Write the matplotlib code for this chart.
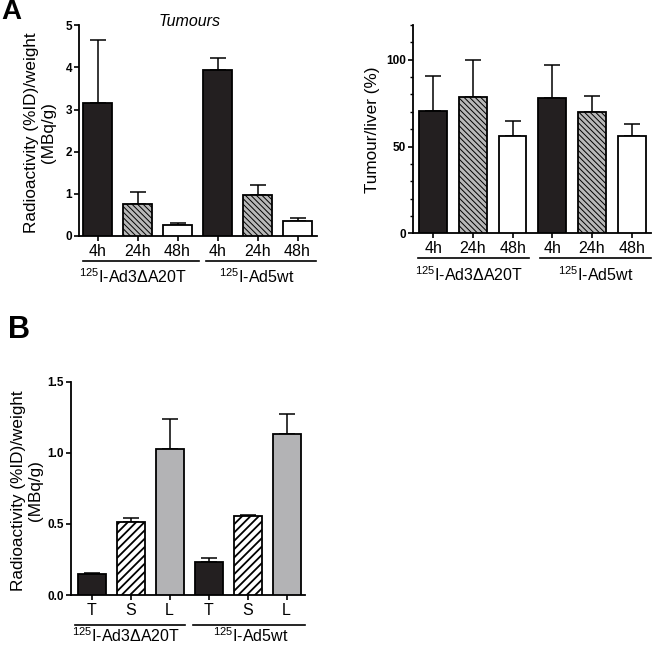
import matplotlib
matplotlib.use("Agg")
import matplotlib.pyplot as plt
from matplotlib.transforms import blended_transform_factory
from matplotlib.lines import Line2D

plt.rcParams['font.family'] = ['Liberation Sans', 'DejaVu Sans']
plt.rcParams['mathtext.fontset'] = 'custom'
plt.rcParams['mathtext.rm'] = 'Liberation Sans'
plt.rcParams['mathtext.it'] = 'Liberation Sans:italic'
plt.rcParams['mathtext.bf'] = 'Liberation Sans:bold'

# ---------------- data ----------------
time_labels = ["4h", "24h", "48h", "4h", "24h", "48h"]
organ_labels = ["T", "S", "L", "T", "S", "L"]
group_labels = [r"$^{125}$I-Ad3ΔA20T", r"$^{125}$I-Ad5wt"]

tumour_ticks = [0, 1, 2, 3, 4, 5]
tumour_vals = [3.16, 0.77, 0.25, 3.93, 0.97, 0.36]
tumour_err = [1.50, 0.28, 0.06, 0.30, 0.25, 0.07]

ratio_ticks = [0, 50, 100]
ratio_vals = [70.2, 78.5, 55.9, 78.2, 69.8, 56.3]
ratio_err = [20.5, 21.3, 8.9, 18.7, 9.3, 6.4]

organ_ticks = [0.0, 0.5, 1.0, 1.5]
organ_vals = [0.145, 0.51, 1.027, 0.232, 0.558, 1.134]
organ_err = [0.007, 0.03, 0.208, 0.03, 0.007, 0.139]

BLACK = '#231f20'
GREY = '#b3b3b5'
HATCH_GREY = '#b8b8b8'

W, H = 652, 645
fig = plt.figure(figsize=(W / 100, H / 100), dpi=100)


def fx(px):
    return px / W


def fy(py):
    return 1 - py / H


def style_axes(ax, ticks, fmt):
    for s in ['top', 'right']:
        ax.spines[s].set_visible(False)
    for s in ['left', 'bottom']:
        ax.spines[s].set_linewidth(1.3)
    ax.tick_params(axis='both', which='major', length=3.5, width=1.2, direction='out')
    ax.tick_params(axis='both', which='minor', length=2.5, width=1.0, direction='out')
    ax.tick_params(axis='y', pad=1.5)
    ax.tick_params(axis='x', labelsize=11.5, pad=2)
    ax.set_yticks(ticks)
    ax.set_yticklabels([fmt.format(t) for t in ticks], fontweight='bold', fontsize=8.5)


def draw_bars(ax, vals, errs, styles, width):
    x = list(range(len(vals)))
    for i, (v, e, st) in enumerate(zip(vals, errs, styles)):
        fc, hatch, hlw, hc = st
        with plt.rc_context({'hatch.linewidth': hlw, 'hatch.color': hc}):
            b = ax.bar(x[i], v, width=width, color=fc, edgecolor='black',
                       linewidth=1.3, hatch=hatch, zorder=3)
            for p in b:
                if hasattr(p, 'set_hatch_linewidth'):
                    p.set_hatch_linewidth(hlw)
        ax.errorbar(x[i], v, yerr=[[0], [e]], fmt='none', ecolor='black',
                    elinewidth=1.1, capsize=6, capthick=1.1, zorder=2)
    ax.set_xticks(x)


def group_lines(ax, segs, y_line, label_x, y_text):
    tr = blended_transform_factory(ax.transData, fig.transFigure)
    for (x0, x1) in segs:
        fig.add_artist(Line2D([x0, x1], [y_line, y_line], transform=tr,
                              color='black', lw=1.2))
    for lx, lab in zip(label_x, group_labels):
        fig.text(lx, y_text, lab, transform=tr, ha='center', va='center',
                 fontsize=11.5)


sty_time = [(BLACK, None, 1.0, 'black'),
            (HATCH_GREY, '\\\\\\\\\\\\', 0.7, '#2a2a2a'),
            ('white', None, 1.0, 'black')] * 2

# ---------------- Panel A left ----------------
ax1 = fig.add_axes([fx(79), fy(236), fx(317 - 79), (236 - 25.3) / H])
draw_bars(ax1, tumour_vals, tumour_err, sty_time, 0.72)
ax1.set_ylim(0, 5)
ax1.set_xlim(-0.4625, 5.4875)
ax1.set_xticklabels(time_labels)
style_axes(ax1, tumour_ticks, "{:g}")
group_lines(ax1, [(-0.36, 2.54), (2.71, 5.46)], fy(261), [0.88, 3.98], fy(277))
fig.text(fx(190), fy(21), "Tumours", style='italic', fontsize=11.5,
         ha='center', va='center')
fig.text(fx(40), fy(133), "Radioactivity (%ID)/weight\n(MBq/g)", rotation=90,
         ha='center', va='center', fontsize=12.3, linespacing=1.1, multialignment='center')
fig.text(fx(11), fy(12), "A", fontsize=20, fontweight='bold', ha='center', va='center')

# ---------------- Panel A right ----------------
ax2 = fig.add_axes([fx(413), fy(233.3), fx(650.7 - 413), (233.3 - 25) / H])
draw_bars(ax2, ratio_vals, ratio_err, sty_time, 0.70)
ax2.set_ylim(0, 120)
ax2.set_yticks(list(range(0, 121, 10)), minor=True)
ax2.set_xlim(-0.51, 5.48)
ax2.set_xticklabels(time_labels)
style_axes(ax2, ratio_ticks, "{:g}")
group_lines(ax2, [(-0.385, 2.41), (2.70, 5.48)], fy(258.3), [0.9, 4.1], fy(275))
fig.text(fx(373), fy(130), "Tumour/liver (%)", rotation=90,
         ha='center', va='center', fontsize=12.3)

# ---------------- Panel B ----------------
ax3 = fig.add_axes([fx(71), fy(595), fx(305 - 71), (595 - 381.7) / H])
sty_org = [(BLACK, None, 1.0, 'black'),
           ('white', '////', 1.3, 'black'),
           (GREY, None, 1.0, 'black')] * 2
draw_bars(ax3, organ_vals, organ_err, sty_org, 0.72)
ax3.set_ylim(0, 1.5)
ax3.set_xlim(-0.53, 5.47)
ax3.set_xticklabels(organ_labels)
style_axes(ax3, organ_ticks, "{:.1f}")
group_lines(ax3, [(-0.43, 2.39), (2.6, 5.47)], fy(625), [0.88, 4.08], fy(636))
fig.text(fx(27), fy(491), "Radioactivity (%ID)/weight\n(MBq/g)", rotation=90,
         ha='center', va='center', fontsize=12.3, linespacing=1.1, multialignment='center')
fig.text(fx(19.5), fy(330.5), "B", fontsize=22, fontweight='bold', ha='center', va='center')

fig.savefig("out.png", dpi=100, facecolor='white')
